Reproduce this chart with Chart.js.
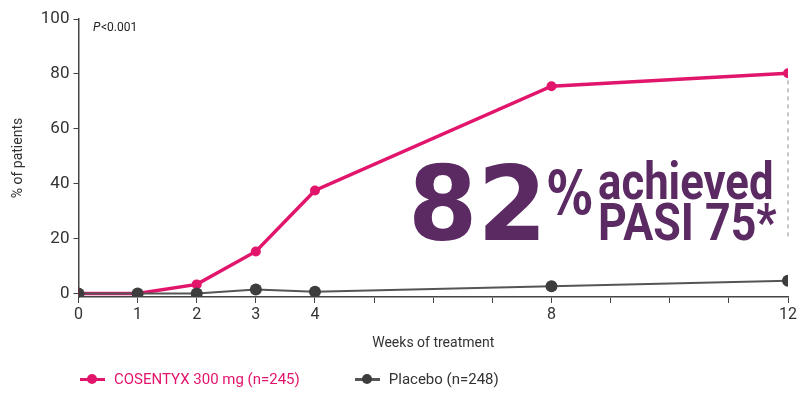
<!DOCTYPE html>
<html>
<head>
<meta charset="utf-8">
<script src="https://cdn.jsdelivr.net/npm/chart.js@4"></script>
<style>
  body { margin: 0; background: #fff; }
  #wrap { position: relative; width: 800px; height: 394px; }
  #legend { position: absolute; left: 80px; top: 370px; font: 15px Roboto, sans-serif; display: flex; }
  .item { display: flex; align-items: center; margin-right: 55px; }
  .sym { position: relative; width: 25px; height: 10px; margin-right: 9px; }
  .sym .ln { position: absolute; left: 0; right: 0; top: 4px; height: 3px; }
  .sym .dot { position: absolute; left: 7px; top: 0; width: 10px; height: 10px; border-radius: 50%; }
</style>
</head>
<body>
<div id="wrap">
  <canvas id="chart" width="800" height="394"></canvas>
  <div id="legend"></div>
</div>
<script>
// Datos
const weeks = [0, 1, 2, 3, 4, 8, 12];
const cosentyx = [0, 0, 3.3, 15.3, 37.5, 75.5, 80.2];
const placebo = [0, 0, 0, 1.4, 0.6, 2.6, 4.6];
const xTickLabels = [0, 1, 2, 3, 4, 8, 12];
const yTicks = [0, 20, 40, 60, 80, 100];
const seriesNames = ['COSENTYX 300 mg (n=245)', 'Placebo (n=248)'];

const pink = '#e2156c';
const grey = '#3d3d3d';
const purple = '#5b2a63';

// Helper: texto comprimido horizontalmente
function squeezedText(ctx, text, x, y, sx) {
    ctx.save();
    ctx.translate(x, y);
    ctx.scale(sx, 1);
    ctx.fillText(text, 0, 0);
    ctx.restore();
}

// Texto grande y línea punteada
const annotate = {
    id: 'annotate',
    afterDatasetsDraw(chart) {
        const { ctx, scales: { x, y } } = chart;
        ctx.save();
        // línea punteada en la semana 12
        ctx.strokeStyle = '#8a8a8a';
        ctx.lineWidth = 1;
        ctx.setLineDash([4, 4]);
        ctx.beginPath();
        ctx.moveTo(x.getPixelForValue(12), y.getPixelForValue(cosentyx[6]) + 7);
        ctx.lineTo(x.getPixelForValue(12), y.getPixelForValue(20.5));
        ctx.stroke();
        ctx.setLineDash([]);

        // P<0.001
        ctx.fillStyle = '#222';
        ctx.textBaseline = 'alphabetic';
        ctx.font = 'italic 12px Roboto, sans-serif';
        ctx.fillText('P', 93, 31);
        ctx.font = '12px Roboto, sans-serif';
        ctx.fillText('<0.001', 101, 31);

        // 82% achieved PASI 75*
        ctx.fillStyle = purple;
        ctx.font = 'bold 104px "DejaVu Sans", sans-serif';
        squeezedText(ctx, '82', 408, 240, 0.96);
        ctx.font = 'bold 60px "DejaVu Sans", sans-serif';
        squeezedText(ctx, '%', 547, 214, 0.76);
        ctx.font = 'bold 52px Roboto, sans-serif';
        squeezedText(ctx, 'achieved', 598, 199, 0.84);
        squeezedText(ctx, 'PASI 75*', 598, 240, 0.86);
        ctx.restore();
    }
};

const ctx = document.getElementById('chart').getContext('2d');
new Chart(ctx, {
    type: 'line',
    data: {
        datasets: [{
            label: seriesNames[0],
            data: weeks.map((w, i) => ({ x: w, y: cosentyx[i] })),
            borderColor: pink,
            backgroundColor: pink,
            borderWidth: 3.5,
            pointRadius: 5,
            pointBorderWidth: 0,
            order: 1
        }, {
            label: seriesNames[1],
            data: weeks.map((w, i) => ({ x: w, y: placebo[i] })),
            borderColor: '#555',
            backgroundColor: grey,
            borderWidth: 2,
            pointRadius: 6,
            pointBorderWidth: 0,
            order: 0
        }]
    },
    options: {
        responsive: false,
        animation: false,
        layout: { padding: { top: 19, right: 12, bottom: 38, left: 6 } },
        plugins: {
            legend: { display: false },
            tooltip: { enabled: false }
        },
        scales: {
            x: {
                type: 'linear',
                min: 0,
                max: 12,
                grid: { display: true, drawOnChartArea: false, drawTicks: true, tickLength: 6, color: '#444', tickWidth: 1 },
                border: { color: '#444', width: 1.5 },
                ticks: {
                    stepSize: 1,
                    autoSkip: false,
                    maxRotation: 0,
                    color: '#333',
                    font: { family: 'Roboto', size: 16 },
                    padding: 2,
                    callback: v => xTickLabels.includes(v) ? String(v) : ''
                },
                title: { display: true, text: 'Weeks of treatment', color: '#333', font: { family: 'Roboto', size: 14 }, padding: { top: 9 } }
            },
            y: {
                min: -1.3,
                max: 100,
                afterBuildTicks: axis => { axis.ticks = yTicks.map(v => ({ value: v })); },
                grid: { display: true, drawOnChartArea: false, drawTicks: true, tickLength: 5, color: '#444' },
                border: { color: '#444', width: 1.5 },
                ticks: { color: '#333', font: { family: 'Roboto', size: 17 }, padding: 4 },
                title: { display: true, text: '% of patients', color: '#333', font: { family: 'Roboto', size: 14 }, padding: { bottom: 10 } }
            }
        }
    },
    plugins: [annotate]
});

// Leyenda en HTML
const legend = document.getElementById('legend');
[[seriesNames[0], pink, pink, pink], [seriesNames[1], '#555', grey, '#333']].forEach(([name, line, dot, txt]) => {
    const item = document.createElement('div');
    item.className = 'item';
    item.innerHTML = `<span class="sym"><span class="ln" style="background:${line}"></span><span class="dot" style="background:${dot}"></span></span><span style="color:${txt}">${name}</span>`;
    legend.appendChild(item);
});
</script>
</body>
</html>
